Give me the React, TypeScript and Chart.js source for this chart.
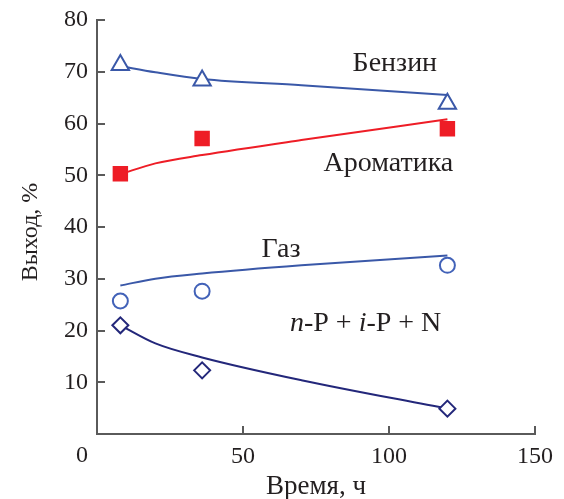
import React, { useEffect, useRef } from "react";
import { Chart, registerables } from "chart.js";

Chart.register(...registerables);

// Measured points
const timeMeas = [8, 36, 120];
const benzinMeas = [71.3, 68.3, 63.8];
const aromMeas = [50.3, 57.1, 59.0];
const gasMeas = [25.7, 27.6, 32.6];
const npMeas = [21.0, 12.3, 4.9];

// Fitted curves
const timeFit = [8, 20, 36, 70, 120];
const benzinFit = [71.1, 69.9, 68.6, 67.4, 65.5];
const aromFit = [50.2, 52.3, 53.9, 56.8, 60.8];
const gasFit = [28.7, 30.0, 31.0, 32.6, 34.5];
const npFit = [21.0, 17.5, 14.8, 10.4, 4.9];

const xTicks = [0, 50, 100, 150];
const yTicks = [10, 20, 30, 40, 50, 60, 70, 80];

const FONT = "'Liberation Serif', 'Times New Roman', serif";
const BLUE = "#3a58a8";
const BLUE2 = "#4262b8";
const RED = "#ee1d26";
const NAVY = "#23277a";
const AXIS = "#5a5a5a";
const TEXT = "#231f20";

const toPts = (xs: number[], ys: number[]) => xs.map((x, i) => ({ x, y: ys[i] }));

const labelsPlugin = {
  id: "labels",
  afterDraw(chart: any) {
    const { ctx, scales } = chart;
    const xs = scales.x;
    const ys = scales.y;
    const ca = chart.chartArea;
    ctx.save();
    ctx.fillStyle = TEXT;
    ctx.textBaseline = "middle";
    ctx.textAlign = "center";
    ctx.font = `28px ${FONT}`;
    ctx.fillText("Бензин", xs.getPixelForValue(102), ys.getPixelForValue(71.5));
    ctx.fillText("Ароматика", xs.getPixelForValue(99.8), ys.getPixelForValue(52.3));
    ctx.fillText("Газ", xs.getPixelForValue(63), ys.getPixelForValue(35.7));

    // n-P + i-P + N
    const parts = [
      { t: "n", it: true },
      { t: "-P + ", it: false },
      { t: "i", it: true },
      { t: "-P + N", it: false },
    ];
    let total = 0;
    const widths = parts.map((p) => {
      ctx.font = `${p.it ? "italic " : ""}28px ${FONT}`;
      const w = ctx.measureText(p.t).width;
      total += w;
      return w;
    });
    let px = xs.getPixelForValue(92) - total / 2;
    const py = ys.getPixelForValue(21.4);
    ctx.textAlign = "left";
    parts.forEach((p, i) => {
      ctx.font = `${p.it ? "italic " : ""}28px ${FONT}`;
      ctx.fillText(p.t, px, py);
      px += widths[i];
    });

    // origin "0"
    ctx.textAlign = "center";
    ctx.font = `24px ${FONT}`;
    ctx.fillText("0", xs.getPixelForValue(0) - 15, xs.top + 22);

    // axis titles
    ctx.font = `27px ${FONT}`;
    ctx.fillText("Время, ч", (ca.left + ca.right) / 2, 487);
    ctx.save();
    ctx.translate(31, (ca.top + ca.bottom) / 2 + 5);
    ctx.rotate(-Math.PI / 2);
    ctx.font = `24px ${FONT}`;
    ctx.fillText("Выход, %", 0, 0);
    ctx.restore();
    ctx.restore();
  },
};

export default function App() {
  const ref = useRef<HTMLCanvasElement>(null);
  useEffect(() => {
    document.body.style.margin = "0";
    const canvas = ref.current!;
    const marker = (label: string, ys: number[], style: string, color: string, r: number, fill: string, order: number) => ({
      label,
      data: toPts(timeMeas, ys),
      showLine: false,
      pointStyle: style,
      pointRadius: r,
      pointHoverRadius: r,
      pointBorderWidth: 2,
      pointBorderColor: color,
      pointBackgroundColor: fill,
      borderColor: color,
      backgroundColor: fill,
      order,
    });
    const curve = (label: string, ys: number[], color: string) => ({
      label,
      data: toPts(timeFit, ys),
      showLine: true,
      pointRadius: 0,
      borderColor: color,
      borderWidth: 2,
      cubicInterpolationMode: "monotone",
      fill: false,
      order: 10,
    });
    const zeroPad = (s: any) => {
      s.paddingTop = 0;
      s.paddingBottom = 0;
      s.paddingLeft = 0;
      s.paddingRight = 0;
    };
    const chart = new Chart(canvas, {
      type: "scatter",
      data: {
        datasets: [
          marker("Бензин", benzinMeas, "triangle", BLUE, 10, "#ffffff", 1),
          marker("Ароматика", aromMeas, "rect", RED, 9.5, RED, 1),
          marker("Газ", gasMeas, "circle", BLUE2, 7.5, "#ffffff", 1),
          marker("n-P + i-P + N", npMeas, "rectRot", NAVY, 8, "#ffffff", 1),
          curve("Бензин fit", benzinFit, BLUE),
          curve("Ароматика fit", aromFit, RED),
          curve("Газ fit", gasFit, BLUE),
          curve("n-P fit", npFit, NAVY),
        ] as any,
      },
      options: {
        responsive: false,
        animation: false,
        layout: { padding: { top: 20, right: 29, left: 0, bottom: 0 } },
        plugins: { legend: { display: false }, tooltip: { enabled: false } },
        scales: {
          x: {
            type: "linear",
            min: 0,
            max: 150,
            afterFit: (s: any) => {
              s.height = 65;
              zeroPad(s);
            },
            afterBuildTicks: (s: any) => {
              s.ticks = xTicks.map((v) => ({ value: v }));
            },
            border: { color: AXIS, width: 2 },
            grid: { drawOnChartArea: false, drawTicks: true, tickLength: -8, color: AXIS, lineWidth: 2 },
            ticks: {
              padding: 16,
              color: TEXT,
              font: { family: FONT, size: 24 },
              callback: (v: any) => (v === 0 ? "" : String(v)),
            },
          },
          y: {
            type: "linear",
            min: 0,
            max: 80,
            afterFit: (s: any) => {
              s.width = 97;
              zeroPad(s);
            },
            afterBuildTicks: (s: any) => {
              s.ticks = [0, ...yTicks].map((v) => ({ value: v }));
            },
            border: { color: AXIS, width: 2 },
            grid: { drawOnChartArea: false, drawTicks: true, tickLength: -8, color: AXIS, lineWidth: 2 },
            ticks: {
              padding: 17,
              color: TEXT,
              font: { family: FONT, size: 24 },
              callback: (v: any) => (v === 0 ? "" : String(v)),
            },
          },
        },
      } as any,
      plugins: [labelsPlugin],
    });
    return () => chart.destroy();
  }, []);
  return <canvas ref={ref} width={564} height={499} style={{ display: "block" }} />;
}
